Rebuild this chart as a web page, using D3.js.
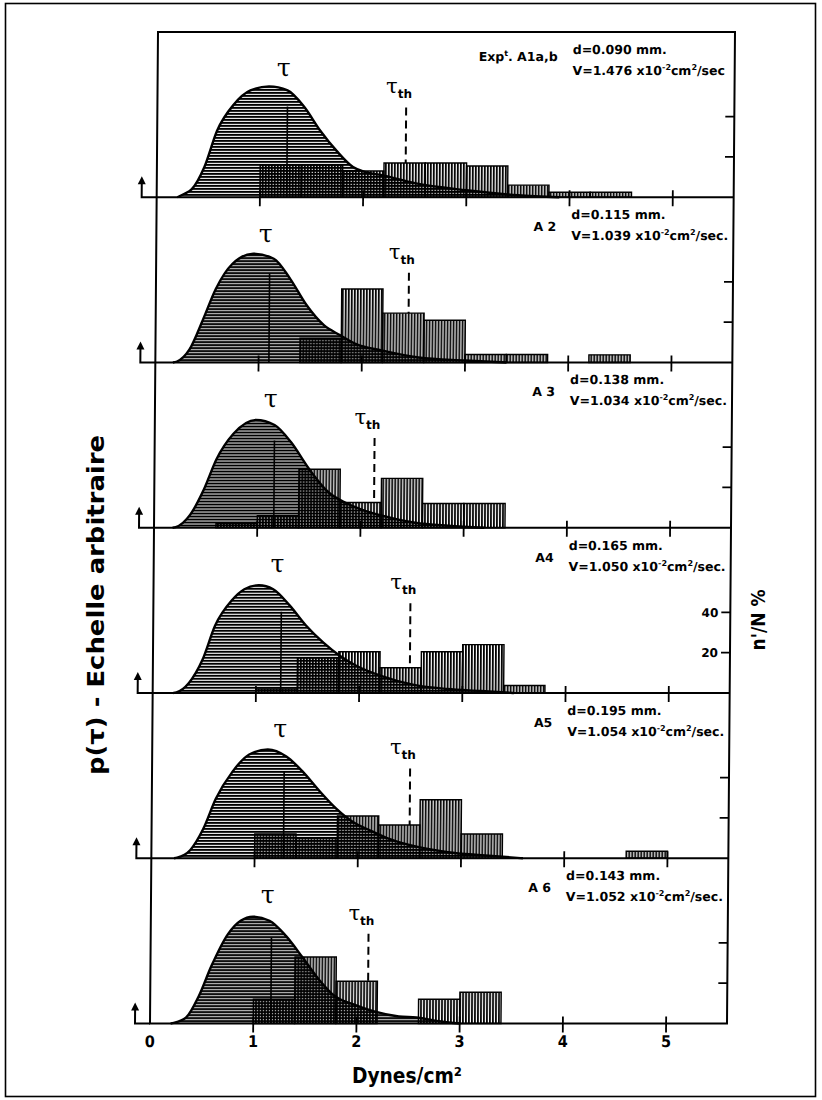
<!DOCTYPE html>
<html lang="fr">
<head>
<meta charset="UTF-8">
<script src="https://cdn.jsdelivr.net/npm/d3@7/dist/d3.min.js"></script>
<title></title>
<style>
  body { margin: 0; background: #fff; }
</style>
</head>
<body>
<script>
  // axis ticks
  var xTicks = [0, 1, 2, 3, 4, 5];
  var pctTicks = [20, 40];

  // one entry per experiment (top to bottom)
  var expNames = ["A1a,b", "A 2", "A 3", "A4", "A5", "A 6"];
  var dValues = ["0.090", "0.115", "0.138", "0.165", "0.195", "0.143"];
  var vValues = ["1.476", "1.039", "1.034", "1.050", "1.054", "1.052"];
  var tauMean = [1.26, 1.10, 1.16, 1.24, 1.28, 1.17];
  var tauTh = [2.41, 2.45, 2.13, 2.49, 2.50, 2.11];

  // histogram n'/N % (bins of 0.4 dynes/cm2)
  var binStarts = [0.6, 1.0, 1.4, 1.8, 2.2, 2.6, 3.0, 3.4, 3.8, 4.2, 4.6];
  var binWidth = 0.4;
  var hist1 = [0, 16, 16, 13, 17, 17, 15.5, 6, 2.5, 2.5, 0];
  var hist2 = [0, 0, 12, 36.5, 24.5, 21, 4, 4, 0, 3.8, 0];
  var hist3 = [2, 6, 29, 12.5, 24.5, 12, 12, 0, 0, 0, 0];
  var hist4 = [0, 2, 17.5, 20.5, 12.5, 20.5, 24, 3.7, 0, 0, 0];
  var hist5 = [0, 12, 10, 21, 16.5, 29, 12, 0, 0, 0, 3.5];
  var hist6 = [0, 12, 33, 21, 0, 12, 15.5, 0, 0, 0, 0];

  // p(tau), arbitrary scale : [tau, p]
  var curve1 = [[0.2,0],[0.26,1.5],[0.34,4],[0.46,15],[0.58,33],[0.74,46],[0.9,53],[1.08,55],[1.26,53],[1.42,45],[1.58,33],[1.74,23],[1.9,15],[2.02,12.5],[2.18,11],[2.5,7],[3.0,3.5],[3.5,1],[3.9,0]];
  var curve2 = [[0.17,0],[0.21,0.5],[0.33,6.5],[0.46,21.5],[0.58,36.5],[0.74,49],[0.94,54],[1.14,51.5],[1.3,41.5],[1.46,28.5],[1.63,18.5],[1.79,13.5],[1.95,9],[2.19,6],[2.55,2.5],[3.0,1],[3.4,0]];
  var curve3 = [[0.18,0],[0.21,0.3],[0.35,6.5],[0.48,19],[0.6,34],[0.76,46.5],[0.98,53.5],[1.16,51],[1.32,42.5],[1.5,29],[1.69,17.5],[1.85,12.5],[2.01,9],[2.21,6],[2.53,2.5],[2.85,1],[3.2,0]];
  var curve4 = [[0.2,0],[0.23,0.3],[0.35,5],[0.48,16.5],[0.6,33.5],[0.76,46],[0.88,51.5],[1.02,53.5],[1.16,51.5],[1.32,43.5],[1.48,33.5],[1.65,25],[1.81,18.5],[1.97,13.5],[2.21,8.5],[2.53,4],[2.85,2],[3.18,1],[3.5,0]];
  var curve5 = [[0.22,0],[0.25,0.3],[0.375,4],[0.5,14.5],[0.62,29.5],[0.78,43],[0.94,51.5],[1.12,54],[1.3,50.5],[1.46,43],[1.63,33],[1.79,24.5],[1.95,18],[2.11,14],[2.31,9.5],[2.59,5.5],[2.875,3],[3.2,1.5],[3.6,0]];
  var curve6 = [[0.2,0],[0.23,0.3],[0.35,3],[0.47,13.5],[0.59,28.5],[0.75,44.5],[0.87,51],[0.99,53],[1.15,51],[1.31,43.5],[1.47,33],[1.63,22],[1.79,13.5],[1.97,9.5],[2.17,6],[2.41,3.5],[2.58,3],[2.82,1],[3.0,0]];

  var hists = [hist1, hist2, hist3, hist4, hist5, hist6];
  var curves = [curve1, curve2, curve3, curve4, curve5, curve6];

  var width = 822, height = 1100;
  var top0 = 32, bottom0 = 1023.5, nPanels = 6;
  var pH = (bottom0 - top0) / nPanels;

  var x = d3.scaleLinear().domain([0, 5.59]).range([150, 727]);
  var y = d3.scaleLinear().domain([0, 82]).range([pH, 0]);
  var xMax = x.range()[1], xMin = x.range()[0];

  var narrow = '"Liberation Sans Narrow", "DejaVu Sans Condensed", "Liberation Sans", sans-serif';
  var letter = '"DejaVu Sans", sans-serif';

  var svg = d3.select('body').append('svg')
    .attr('width', width)
    .attr('height', height);

  var defs = svg.append('defs');
  var ph = defs.append('pattern').attr('id', 'hatchH')
    .attr('patternUnits', 'userSpaceOnUse').attr('width', 4).attr('height', 3);
  ph.append('rect').attr('width', 4).attr('height', 3).attr('fill', '#fff');
  ph.append('rect').attr('width', 4).attr('height', 2).attr('fill', '#000');
  var pv = defs.append('pattern').attr('id', 'hatchV')
    .attr('patternUnits', 'userSpaceOnUse').attr('width', 3).attr('height', 4);
  pv.append('rect').attr('width', 1.8).attr('height', 4).attr('fill', '#000');

  // outer border
  svg.append('rect')
    .attr('x', 5.5).attr('y', 3.5).attr('width', 810).attr('height', 1093)
    .attr('fill', 'none').attr('stroke', '#000').attr('stroke-width', 1.6);

  // the scanned figure leans slightly
  var k = 8 / (bottom0 - top0);
  var plot = svg.append('g')
    .attr('transform', 'translate(' + (k * bottom0) + ',0) skewX(' + (-Math.atan(k) * 180 / Math.PI) + ')');

  var area = d3.area()
    .x(function(d) { return x(d[0]); })
    .y0(y(0))
    .y1(function(d) { return y(d[1]); })
    .curve(d3.curveMonotoneX);
  var line = d3.line()
    .x(function(d) { return x(d[0]); })
    .y(function(d) { return y(d[1]); })
    .curve(d3.curveMonotoneX);

  function curveAt(c, t) {
    for (var j = 1; j < c.length; j++) {
      if (c[j][0] >= t) {
        var a = c[j - 1], b = c[j];
        return a[1] + (b[1] - a[1]) * (t - a[0]) / (b[0] - a[0]);
      }
    }
    return 0;
  }
  function histAt(h, t) {
    var idx = Math.floor((t - binStarts[0]) / binWidth + 1e-9);
    return (idx >= 0 && idx < h.length) ? h[idx] : 0;
  }

  var panels = plot.selectAll('.panel')
    .data(d3.range(nPanels))
    .enter().append('g')
    .attr('class', 'panel')
    .attr('transform', function(i) { return 'translate(0,' + (top0 + i * pH) + ')'; });

  panels.each(function(i) {
    var g = d3.select(this);
    var c = curves[i], h = hists[i];

    g.append('path').datum(c)
      .attr('d', area)
      .attr('fill', 'url(#hatchH)');

    var bins = binStarts.map(function(s, j) { return {x0: s, x1: s + binWidth, v: h[j]}; })
      .filter(function(b) { return b.v > 0; });
    g.selectAll('.bar').data(bins).enter().append('rect')
      .attr('class', 'bar')
      .attr('x', function(b) { return x(b.x0); })
      .attr('width', function(b) { return x(b.x1) - x(b.x0); })
      .attr('y', function(b) { return y(b.v); })
      .attr('height', function(b) { return y(0) - y(b.v); })
      .attr('fill', 'url(#hatchV)')
      .attr('stroke', '#000').attr('stroke-width', 1.4);

    g.append('path').datum(c)
      .attr('d', line)
      .attr('fill', 'none').attr('stroke', '#000').attr('stroke-width', 2.4);

    // mean line inside the curve
    g.append('line')
      .attr('x1', x(tauMean[i])).attr('x2', x(tauMean[i]))
      .attr('y1', y(0)).attr('y2', y(curveAt(c, tauMean[i]) * 0.85))
      .attr('stroke', '#000').attr('stroke-width', 1.6);

    // tau_th dashed line
    g.append('line')
      .attr('x1', x(tauTh[i])).attr('x2', x(tauTh[i]))
      .attr('y1', y(44.5)).attr('y2', y(histAt(h, tauTh[i])))
      .attr('stroke', '#000').attr('stroke-width', 2)
      .attr('stroke-dasharray', '8,5');

    g.append('text')
      .attr('x', x(tauMean[i] - 0.04)).attr('y', y(60))
      .attr('text-anchor', 'middle')
      .style('font-family', '"DejaVu Serif", serif').style('font-size', '25px')
      .text('\u03c4');

    var tt = g.append('text')
      .attr('x', x(tauTh[i] - 0.07)).attr('y', y(51.5))
      .attr('text-anchor', 'middle')
      .style('font-family', '"DejaVu Serif", serif').style('font-size', '21px');
    tt.append('tspan').text('\u03c4');
    tt.append('tspan').attr('dy', 5)
      .style('font-family', letter).style('font-weight', 'bold').style('font-size', '12px')
      .text('th');

    // annotations
    var ax = x(4) + 2;
    g.append('text').attr('x', ax).attr('y', 22)
      .style('font-family', letter).style('font-weight', 'bold').style('font-size', '12.5px')
      .text('d=' + dValues[i] + ' mm.');
    var t2 = g.append('text').attr('x', ax).attr('y', 43)
      .style('font-family', letter).style('font-weight', 'bold').style('font-size', '12.5px');
    t2.append('tspan').text('V=' + vValues[i] + ' x10');
    t2.append('tspan').attr('dy', -5).style('font-size', '8px').text('-2');
    t2.append('tspan').attr('dy', 5).text('cm');
    t2.append('tspan').attr('dy', -5).style('font-size', '8px').text('2');
    t2.append('tspan').attr('dy', 5).text(i === 0 ? '/sec' : '/sec.');

    var t3 = g.append('text').attr('x', x(4) - 13).attr('y', i === 0 ? 29 : 34)
      .attr('text-anchor', 'end')
      .style('font-family', letter).style('font-weight', 'bold').style('font-size', '12.5px');
    if (i === 0) {
      t3.append('tspan').text('Exp');
      t3.append('tspan').attr('dy', -5).style('font-size', '8px').text('t');
      t3.append('tspan').attr('dy', 5).text('. ' + expNames[i]);
    } else {
      t3.text(expNames[i]);
    }

    // left arrow to the baseline
    var axx = xMin - 15;
    g.append('path')
      .attr('d', 'M' + xMin + ',' + y(0) + 'H' + axx + 'V' + (y(0) - 14))
      .attr('fill', 'none').attr('stroke', '#000').attr('stroke-width', 2);
    g.append('path')
      .attr('d', 'M' + (axx - 4) + ',' + (y(0) - 13) + 'L' + axx + ',' + (y(0) - 21) + 'L' + (axx + 4) + ',' + (y(0) - 13) + 'Z')
      .attr('fill', '#000');

    // right ticks
    g.selectAll('.rt').data(pctTicks).enter().append('line')
      .attr('x1', xMax - 9).attr('x2', xMax)
      .attr('y1', function(d) { return y(d); }).attr('y2', function(d) { return y(d); })
      .attr('stroke', '#000').attr('stroke-width', 1.8);
    if (i === 3) {
      g.selectAll('.rl').data(pctTicks).enter().append('text')
        .attr('x', xMax - 12).attr('y', function(d) { return y(d); })
        .attr('dy', '0.35em').attr('text-anchor', 'end')
        .style('font-family', letter).style('font-weight', 'bold').style('font-size', '12px')
        .text(function(d) { return d; });
    }

    // x ticks on baseline
    g.selectAll('.xt').data(xTicks.slice(1)).enter().append('line')
      .attr('x1', function(d) { return x(d); }).attr('x2', function(d) { return x(d); })
      .attr('y1', pH - 7).attr('y2', pH + 9)
      .attr('stroke', '#000').attr('stroke-width', 1.8);
  });

  // frame and panel separators
  plot.append('rect')
    .attr('x', xMin).attr('y', top0).attr('width', xMax - xMin).attr('height', bottom0 - top0)
    .attr('fill', 'none').attr('stroke', '#000').attr('stroke-width', 2);
  plot.selectAll('.sep').data(d3.range(1, nPanels)).enter().append('line')
    .attr('x1', xMin).attr('x2', xMax)
    .attr('y1', function(i) { return top0 + i * pH; }).attr('y2', function(i) { return top0 + i * pH; })
    .attr('stroke', '#000').attr('stroke-width', 2);

  // bottom tick labels
  plot.selectAll('.xl').data(xTicks).enter().append('text')
    .attr('x', function(d) { return x(d); }).attr('y', bottom0 + 24)
    .attr('text-anchor', 'middle')
    .style('font-family', narrow).style('font-weight', 'bold').style('font-size', '16px')
    .text(function(d) { return d; });

  // axis titles
  svg.append('text')
    .attr('x', 352).attr('y', 1083)
    .attr('textLength', 110).attr('lengthAdjust', 'spacingAndGlyphs')
    .style('font-family', narrow).style('font-weight', 'bold').style('font-size', '22px')
    .text('Dynes/cm\u00b2');

  svg.append('text')
    .attr('transform', 'translate(104,775) rotate(-90)')
    .attr('textLength', 340).attr('lengthAdjust', 'spacingAndGlyphs')
    .style('font-family', narrow).style('font-weight', 'bold').style('font-size', '23px')
    .text('p(\u03c4) - Echelle arbitraire');

  svg.append('text')
    .attr('transform', 'translate(765,620) rotate(-90)')
    .attr('text-anchor', 'middle')
    .style('font-family', narrow).style('font-weight', 'bold').style('font-size', '19px')
    .text("n'/N %");
</script>
</body>
</html>
